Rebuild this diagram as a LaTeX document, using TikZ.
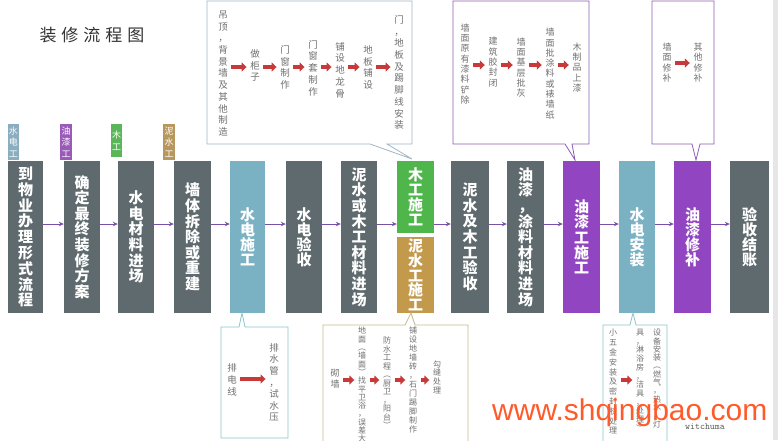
\documentclass[tikz,border=0pt]{standalone}
\usepackage{fontspec}
\setmainfont{Noto Sans CJK SC}
\newfontfamily\wmfont{Liberation Sans}
\usetikzlibrary{arrows.meta}
\definecolor{boxgray}{HTML}{5F6A6E}
\definecolor{boxblue}{HTML}{7AB2C4}
\definecolor{boxgreen}{HTML}{4FB64B}
\definecolor{boxbrown}{HTML}{C39A4C}
\definecolor{boxpurple}{HTML}{9145C0}
\definecolor{flowpurple}{HTML}{7A50A6}
\definecolor{arrred}{HTML}{C83A3A}
\definecolor{txtgray}{HTML}{707070}
\definecolor{cA}{HTML}{A3B6C6}
\definecolor{cP}{HTML}{8E5BB5}
\definecolor{cT}{HTML}{8CC6CA}
\definecolor{cB}{HTML}{C9B98A}
\definecolor{tagblue}{HTML}{8AAEBF}
\definecolor{tagpurple}{HTML}{9A5AB8}
\definecolor{taggreen}{HTML}{5BB65A}
\definecolor{tagbrown}{HTML}{B8975E}
\definecolor{wmorange}{HTML}{FF5A2A}
\definecolor{stripe}{HTML}{E6E6E6}
\makeatletter
\newcommand\vt[2]{\vbox{\baselineskip=#1\relax\lineskip=0pt\lineskiplimit=-100pt\@tfor\vtch:=#2\do{\hbox to 1em{\hss\vtch\hss}}}}
\makeatother
\tikzset{
  mainbox/.style={rectangle, fill=#1, minimum width=36pt, minimum height=152pt, inner sep=0pt, text=white, font=\bfseries\fontsize{15}{15}\selectfont},
  flow/.style={draw=flowpurple, line width=0.9pt, -{Stealth[length=5pt,width=4.5pt]}},
  tagbox/.style={rectangle, fill=#1, minimum width=11.5pt, minimum height=36pt, inner sep=0pt, text=white, font=\fontsize{9}{9}\selectfont},
  col/.style={inner xsep=3.5pt, inner ysep=0pt, text=txtgray, font=\fontsize{9.5}{9.5}\selectfont},
  colsm/.style={inner xsep=3.5pt, inner ysep=0pt, text=txtgray, font=\fontsize{8}{8}\selectfont},
  redarr/.style={draw=arrred, line width=3.5pt, -{Triangle[length=5pt,width=9pt]}},
  callout/.style={line width=0.8pt, fill=white},
}
\begin{document}
\begin{tikzpicture}[x=1pt,y=-1pt]
\useasboundingbox (0,0) rectangle (778,440);
\clip (0,0) rectangle (778,440);
\fill[white] (0,0) rectangle (778,440);
\fill[stripe] (773,0) rectangle (778,440);

% title
\node[font=\fontsize{17}{17}\selectfont, text=black!80] (title) at (92,35) {装\hspace{5pt}修\hspace{5pt}流\hspace{5pt}程\hspace{5pt}图};

% legend tags
\node[tagbox=tagblue] (g1) at (13.5,142) {\vt{11.5pt}{水电工}};
\node[tagbox=tagpurple] (g2) at (66,142) {\vt{11.5pt}{油漆工}};
\node[tagbox=taggreen, minimum height=33pt] (g3) at (116.5,140.5) {\vt{11.5pt}{木工}};
\node[tagbox=tagbrown] (g4) at (169,142) {\vt{11.5pt}{泥水工}};

% main boxes
\node[mainbox=boxgray, minimum width=35pt] (b1) at (25.5,237) {\vt{15.8pt}{到物业办理形式流程}};
\node[mainbox=boxgray] (b2) at (82,237) {\vt{15.6pt}{确定最终装修方案}};
\node[mainbox=boxgray] (b3) at (136,237) {\vt{15.6pt}{水电材料进场}};
\node[mainbox=boxgray, minimum width=37pt] (b4) at (192.5,237) {\vt{15.6pt}{墙体拆除或重建}};
\node[mainbox=boxblue, minimum width=35pt] (b5) at (247.5,237) {\vt{15pt}{水电施工}};
\node[mainbox=boxgray] (b6) at (304,237) {\vt{15pt}{水电验收}};
\node[mainbox=boxgray] (b7) at (359,237) {\vt{15.6pt}{泥水或木工材料进场}};
\node[mainbox=boxgreen, minimum width=37pt, minimum height=72pt] (b8a) at (415.5,197) {\vt{15.2pt}{木工施工}};
\node[mainbox=boxbrown, minimum width=37pt, minimum height=76pt] (b8b) at (415.5,275) {\vt{14.6pt}{泥水工施工}};
\node[mainbox=boxgray, minimum width=38pt] (b9) at (470,237) {\vt{15.6pt}{泥水及木工验收}};
\node[mainbox=boxgray, minimum width=37pt] (b10) at (525.5,237) {\vt{15.6pt}{油漆，涂料材料进场}};
\node[mainbox=boxpurple, minimum width=37pt] (b11) at (581.5,237) {\vt{15.2pt}{油漆工施工}};
\node[mainbox=boxblue] (b12) at (637,237) {\vt{15pt}{水电安装}};
\node[mainbox=boxpurple, minimum width=37pt] (b13) at (692.5,237) {\vt{15pt}{油漆修补}};
\node[mainbox=boxgray, minimum width=39pt] (b14) at (749.5,237) {\vt{15pt}{验收结账}};

% flow arrows
\coordinate (fy) at (0,224);
\foreach \a/\b in {b1/b2,b2/b3,b3/b4,b4/b5,b5/b6,b6/b7,b7/b8a,b8a/b9,b9/b10,b10/b11,b11/b12,b12/b13,b13/b14}
  \draw[flow] (\a.east|-fy) -- (\b.west|-fy);

% ---- top callout 1 (木工)
\draw[callout, draw=cA] (207,1) -- (412,1) -- (412,144) -- (387,144) -- (412,159) -- (370,144) -- (207,144) -- cycle;
\node[col] (ta1) at (223,73.5) {\vt{11.7pt}{吊顶，背景墙及其他制造}};
\node[col] (ta2) at (255,65.5) {\vt{11.7pt}{做柜子}};
\node[col] (ta3) at (285,67.5) {\vt{11.7pt}{门窗制作}};
\node[col] (ta4) at (313,68) {\vt{11.7pt}{门窗套制作}};
\node[col] (ta5) at (340,70) {\vt{11.7pt}{铺设地龙骨}};
\node[col] (ta6) at (368,67.5) {\vt{11.7pt}{地板铺设}};
\node[col] (ta7) at (399,72.5) {\vt{11.7pt}{门，地板及踢脚线安装}};
\coordinate (ya) at (0,67);
\foreach \a/\b in {ta1/ta2,ta2/ta3,ta3/ta4,ta4/ta5,ta5/ta6,ta6/ta7}
  \draw[redarr] (\a.east|-ya) -- (\b.west|-ya);

% ---- top callout 2 (油漆工施工)
\draw[callout, draw=cP] (453,1) -- (589,1) -- (589,144) -- (572,144) -- (575,160) -- (565,144) -- (453,144) -- cycle;
\node[col, font=\fontsize{9}{9}\selectfont] (tb1) at (465,64) {\vt{10.3pt}{墙面原有漆料铲除}};
\node[col, font=\fontsize{9}{9}\selectfont] (tb2) at (493,62) {\vt{10.3pt}{建筑胶封闭}};
\node[col, font=\fontsize{9}{9}\selectfont] (tb3) at (521,67.5) {\vt{10.3pt}{墙面基层批灰}};
\node[col, font=\fontsize{9}{9}\selectfont] (tb4) at (550,73.5) {\vt{10.3pt}{墙面批涂料或裱墙纸}};
\node[col, font=\fontsize{9}{9}\selectfont] (tb5) at (577,67.5) {\vt{10.3pt}{木制品上漆}};
\coordinate (yb) at (0,65);
\foreach \a/\b in {tb1/tb2,tb2/tb3,tb3/tb4,tb4/tb5}
  \draw[redarr] (\a.east|-yb) -- (\b.west|-yb);

% ---- top callout 3 (油漆修补)
\draw[callout, draw=cP] (652,1) -- (714,1) -- (714,144) -- (700,144) -- (696,160) -- (692,144) -- (652,144) -- cycle;
\node[col, font=\fontsize{9}{9}\selectfont] (tc1) at (667,62.5) {\vt{10.5pt}{墙面修补}};
\node[col, font=\fontsize{9}{9}\selectfont] (tc2) at (698,62.5) {\vt{10.5pt}{其他修补}};
\coordinate (yc) at (0,63);
\draw[redarr] (tc1.east|-yc) -- (tc2.west|-yc);

% ---- bottom callout 1 (水电施工)
\draw[callout, draw=cT] (221,438) -- (221,327) -- (239,327) -- (242,313) -- (245,327) -- (288,327) -- (288,438) -- cycle;
\node[col] (td1) at (232,380) {\vt{12pt}{排电线}};
\node[col] (td2) at (274,382.5) {\vt{11.6pt}{排水管，试水压}};
\coordinate (yd) at (0,379);
\draw[redarr] (td1.east|-yd) -- (td2.west|-yd);

% ---- bottom callout 2 (泥水工施工)
\draw[callout, draw=cB] (323,445) -- (323,325) -- (405,325) -- (411,313) -- (415,325) -- (468,325) -- (468,445);
\node[col, font=\fontsize{9}{9}\selectfont] (te1) at (335,379) {\vt{11pt}{砌墙}};
\node[colsm, anchor=north] (te2) at (362,327) {\vt{8.3pt}{地面︵墙面︶找平卫浴，误差大}};
\node[colsm] (te3) at (387,383) {\vt{8.5pt}{防水工程︵厨卫，阳台︶}};
\node[colsm, anchor=north] (te4) at (413,327) {\vt{9pt}{铺设地墙砖，石门踢脚制作}};
\node[colsm] (te5) at (437,377) {\vt{8.7pt}{勾缝处理}};
\coordinate (ye) at (0,380);
\foreach \a/\b in {te1/te2,te2/te3,te3/te4,te4/te5}
  \draw[redarr] (\a.east|-ye) -- (\b.west|-ye);

% ---- bottom callout 3 (水电安装)
\draw[callout, draw=cT] (603,445) -- (603,325) -- (630,325) -- (633,313) -- (636,325) -- (667,325) -- (667,445);
\node[colsm, anchor=north] (tf1) at (613,329) {\vt{9.8pt}{小五金安装及密封胶处理}};
\node[colsm, anchor=north] (tf2) at (640,329) {\vt{8.7pt}{具，淋浴房，洁具，处理︶}};
\node[colsm, anchor=north] (tf3) at (657,329) {\vt{8.3pt}{设备安装︵燃气，热水，灯}};
\coordinate (yf) at (0,380);
\draw[redarr] (tf1.east|-yf) -- (tf2.west|-yf);

% small text and watermark
\node[font=\ttfamily\fontsize{9.5}{9.5}\selectfont, text=black!65] (wc) at (705,427) {witchuma};
\node[anchor=base west, inner sep=0pt, font=\wmfont\fontsize{30}{30}\selectfont, text=wmorange] (wm) at (492,420) {www.shqingbao.com};
\end{tikzpicture}
\end{document}
